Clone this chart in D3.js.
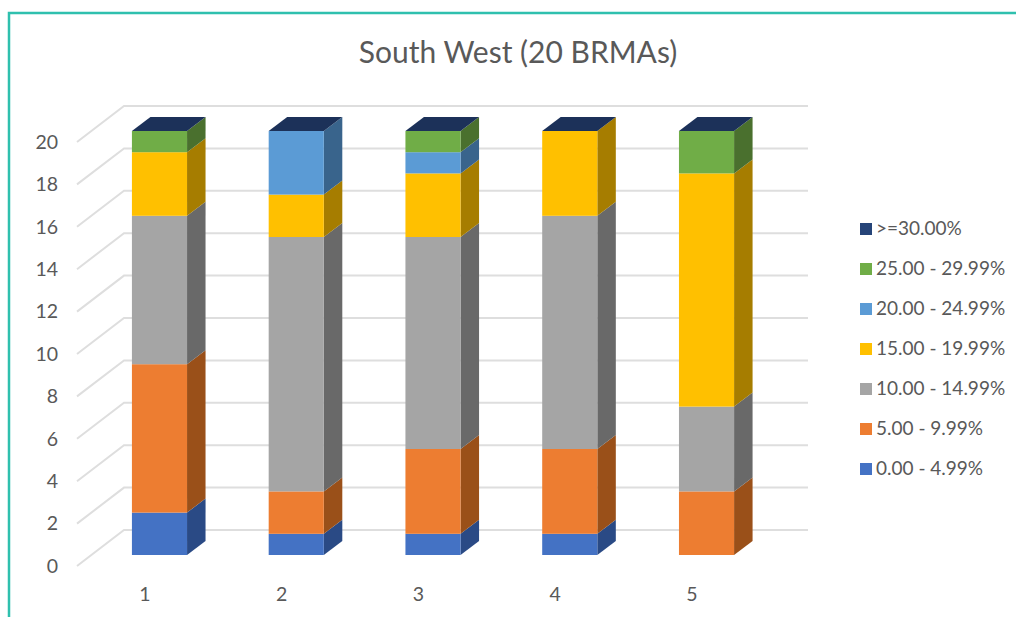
<!DOCTYPE html>
<html>
<head>
<meta charset="utf-8">
<script src="https://cdn.jsdelivr.net/npm/d3@7/dist/d3.min.js"></script>
<style>
  html, body { margin: 0; padding: 0; background: #fff; }
  svg { display: block; }
  text { font-family: Lato, "Open Sans", sans-serif; fill: #595959; }
</style>
</head>
<body>
<svg id="chart" width="1016" height="617"></svg>
<script>
// Number of BRMAs in each rent band, per category
const categories = ["1", "2", "3", "4", "5"];
const bandLabels = ["0.00 - 4.99%", "5.00 - 9.99%", "10.00 - 14.99%", "15.00 - 19.99%", "20.00 - 24.99%", "25.00 - 29.99%", ">=30.00%"];
const band0to5   = [2, 1, 1, 1, 0];
const band5to10  = [7, 2, 4, 4, 3];
const band10to15 = [7, 12, 10, 11, 4];
const band15to20 = [3, 2, 3, 4, 11];
const band20to25 = [0, 3, 1, 0, 0];
const band25to30 = [1, 0, 1, 0, 2];
const band30plus = [0, 0, 0, 0, 0];
const yTicks = [0, 2, 4, 6, 8, 10, 12, 14, 16, 18, 20];

const frontColours = ["#4472C4", "#ED7D31", "#A5A5A5", "#FFC000", "#5B9BD5", "#70AD47", "#264478"];
const sideColours  = ["#2A4A85", "#9A5019", "#696969", "#A67D00", "#39648C", "#4A702E", "#1B315C"];
const topColour = "#1C3159";

const bandSeries = [band0to5, band5to10, band10to15, band15to20, band20to25, band25to30, band30plus];
const rows = categories.map((c, i) => {
  const row = { category: c };
  bandLabels.forEach((b, j) => { row[b] = bandSeries[j][i]; });
  return row;
});
const stacked = d3.stack().keys(bandLabels)(rows);

const svg = d3.select("#chart");

// Panel outline, running off the right and bottom edges
svg.append("path")
  .attr("d", "M9,617 V13 H1016")
  .attr("fill", "none").attr("stroke", "#2FC0AE").attr("stroke-width", 2.5);

svg.append("text")
  .attr("x", 518).attr("y", 63)
  .attr("text-anchor", "middle").attr("font-size", 30)
  .text("South West (20 BRMAs)");

// The y scale describes the front face of the bars; depth offsets give the other planes
const x = d3.scaleBand().domain(categories).range([91.1, 774.9]).paddingInner(0.597).paddingOuter(0.2985);
const y = d3.scaleLinear().domain([0, 20]).range([555, 131]);

const barDepth = { dx: 18.5, dy: 14 };
const wallOffset = -25;   // back wall relative to the front face
const axisOffset = 11;    // axis edge of the floor relative to the front face
const wallLeft = 124, wallRight = 808, axisEdge = 77;

// Gridlines on the back wall, with their slanted run along the side wall
const grid = svg.append("g").attr("fill", "none").attr("stroke", "#DEDEDE").attr("stroke-width", 2);
grid.selectAll("path").data(yTicks).join("path")
  .attr("d", d => `M${axisEdge},${y(d) + axisOffset} L${wallLeft},${y(d) + wallOffset} H${wallRight}`);

// Bars: front, side and top faces of each stacked segment
const bars = svg.append("g");
categories.forEach((c, i) => {
  const x0 = x(c), x1 = x0 + x.bandwidth();
  stacked.forEach((layer, j) => {
    const yBase = y(layer[i][0]), yTop = y(layer[i][1]);
    if (yBase === yTop) return;
    bars.append("path")
      .attr("d", `M${x1},${yBase} L${x1 + barDepth.dx},${yBase - barDepth.dy} V${yTop - barDepth.dy} L${x1},${yTop} Z`)
      .attr("fill", sideColours[j]);
    bars.append("rect")
      .attr("x", x0).attr("y", yTop)
      .attr("width", x.bandwidth()).attr("height", yBase - yTop)
      .attr("fill", frontColours[j]);
  });
  const yStack = y(stacked[stacked.length - 1][i][1]);
  bars.append("path")
    .attr("d", `M${x0},${yStack} L${x0 + barDepth.dx},${yStack - barDepth.dy} H${x1 + barDepth.dx} L${x1},${yStack} Z`)
    .attr("fill", topColour);
});

// Axes
const yAxis = svg.append("g")
  .attr("transform", `translate(62,${axisOffset})`)
  .call(d3.axisLeft(y).tickValues(yTicks).tickSize(0).tickPadding(4));
const xAxis = svg.append("g")
  .attr("transform", "translate(-14.5,587)")
  .call(d3.axisBottom(x).tickSize(0).tickPadding(0));
[yAxis, xAxis].forEach(a => {
  a.select(".domain").remove();
  a.selectAll("text").attr("font-size", 19.5).style("font-family", "Lato, 'Open Sans', sans-serif").attr("fill", "#595959");
});

// Legend, listed from the highest band down
const legendRow = d3.scalePoint().domain(d3.range(bandLabels.length).reverse()).range([229, 469]);
const legend = svg.append("g").selectAll("g").data(d3.range(bandLabels.length)).join("g")
  .attr("transform", j => `translate(860,${legendRow(j)})`);
legend.append("rect")
  .attr("x", 0).attr("y", -6).attr("width", 12).attr("height", 12)
  .attr("fill", j => frontColours[j]);
legend.append("text")
  .attr("x", 16).attr("y", 6).attr("font-size", 19)
  .text(j => bandLabels[j]);
</script>
</body>
</html>
